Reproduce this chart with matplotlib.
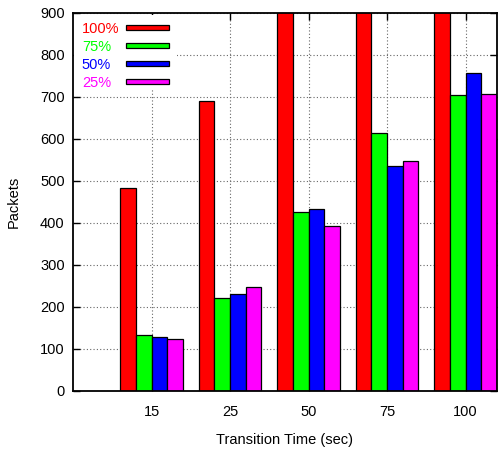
import matplotlib
matplotlib.use("Agg")
import matplotlib.pyplot as plt
from matplotlib.patches import Rectangle
import numpy as np

plt.rcParams['font.family'] = ['Liberation Sans', 'DejaVu Sans']

categories = ["15", "25", "50", "75", "100"]
series_labels = ["100%", "75%", "50%", "25%"]
vals_100 = [483, 690, 1100, 1200, 1300]
vals_75 = [134, 222, 427, 615, 705]
vals_50 = [128, 230, 434, 536, 758]
vals_25 = [123, 247, 393, 548, 708]
colors = ["#ff0000", "#00ff00", "#0000ff", "#ff00ff"]

series = [vals_100, vals_75, vals_50, vals_25]

fig = plt.figure(figsize=(5.02, 4.51), dpi=100)
ax = fig.add_axes([73/502, 1-391/451, 424/502, 378/451])

x = np.arange(1, len(categories)+1)
w = 0.2
offsets = [-1.5*w, -0.5*w, 0.5*w, 1.5*w]
for vals, c, off, lab in zip(series, colors, offsets, series_labels):
    ax.bar(x+off, vals, width=w, color=c, edgecolor="black", linewidth=0.9, zorder=3, label=lab)

ax.set_xlim(0, 5.4)
ax.set_ylim(0, 900)
ax.set_xticks(x)
ax.set_xticklabels(categories)
ax.set_yticks(np.arange(0, 901, 100))
ax.tick_params(direction="in", length=5, width=1, top=True, right=True, labelsize=10.5)
ax.tick_params(axis="x", pad=10)
ax.tick_params(axis="y", pad=6)
ax.grid(True, linestyle=(0, (1, 2)), color="#666666", linewidth=0.8, zorder=0)
for s in ax.spines.values():
    s.set_linewidth(1.3)
    s.set_zorder(5)

ax.set_xlabel("Transition Time (sec)", fontsize=10.5, labelpad=10)
ax.set_ylabel("Packets", fontsize=10.5, labelpad=14)

# legend (gnuplot-style key with opaque background)
ax.add_patch(Rectangle((0.003, 0.796), 0.242, 0.2, transform=ax.transAxes,
                       facecolor="white", edgecolor="none", zorder=4))
rows_y = [0.958, 0.910, 0.862, 0.815]
for lab, c, yy in zip(series_labels, colors, rows_y):
    ax.text(0.021, yy, lab, color=c, transform=ax.transAxes, fontsize=10.5,
            ha="left", va="center", zorder=6)
    ax.add_patch(Rectangle((0.125, yy - 0.0065 + 0.004), 0.101, 0.013, transform=ax.transAxes,
                           facecolor=c, edgecolor="black", linewidth=0.9, zorder=6))

fig.savefig("out.png", dpi=100)
